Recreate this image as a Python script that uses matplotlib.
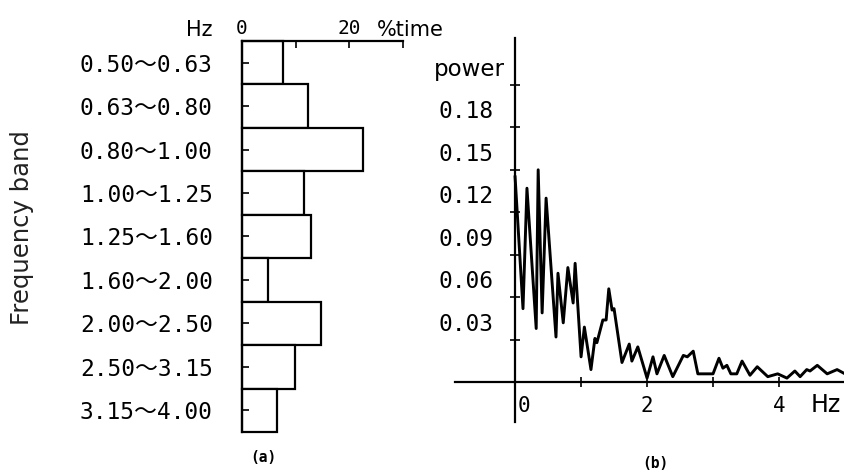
import matplotlib
matplotlib.use("Agg")
import matplotlib.pyplot as plt
from matplotlib.transforms import ScaledTranslation

# (a) share of time spent in each frequency band
bands = ["0.50～0.63", "0.63～0.80", "0.80～1.00", "1.00～1.25", "1.25～1.60",
         "1.60～2.00", "2.00～2.50", "2.50～3.15", "3.15～4.00"]
pct_time = [7.6, 12.3, 22.5, 11.6, 12.8, 4.9, 14.7, 9.9, 6.5]

# (b) power spectrum
freq_hz = [0.00, 0.12, 0.18, 0.32, 0.35, 0.41, 0.47, 0.62, 0.65, 0.73, 0.80, 0.88,
           0.91, 1.00, 1.05, 1.15, 1.21, 1.24, 1.33, 1.38, 1.42, 1.47, 1.50, 1.62,
           1.73, 1.77, 1.86, 2.00, 2.09, 2.15, 2.26, 2.39, 2.55, 2.61, 2.70, 2.77,
           3.00, 3.09, 3.15, 3.21, 3.27, 3.36, 3.44, 3.56, 3.67, 3.83, 3.98, 4.12,
           4.24, 4.32, 4.42, 4.47, 4.58, 4.73, 4.88, 5.00]
power = [0.145, 0.052, 0.137, 0.038, 0.150, 0.049, 0.130, 0.032, 0.077, 0.042, 0.081, 0.056,
         0.084, 0.018, 0.039, 0.009, 0.031, 0.028, 0.044, 0.044, 0.066, 0.051, 0.052, 0.014,
         0.027, 0.015, 0.025, 0.003, 0.018, 0.006, 0.019, 0.004, 0.019, 0.018, 0.022, 0.006,
         0.006, 0.017, 0.010, 0.012, 0.006, 0.006, 0.015, 0.005, 0.011, 0.004, 0.006, 0.003,
         0.008, 0.004, 0.009, 0.008, 0.012, 0.006, 0.009, 0.006]

power_ticks = [0.03, 0.06, 0.09, 0.12, 0.15, 0.18, 0.21]
power_labels = ["0.03", "0.06", "0.09", "0.12", "0.15", "0.18", "power"]

mono = ["DejaVu Sans Mono", "Noto Sans CJK JP"]

fig = plt.figure(figsize=(8.45, 4.70), dpi=100)

# ---- panel (a)
ax1 = fig.add_axes([0.2864, 0.0809, 0.1905, 0.832])
ax1.barh(range(len(bands)), pct_time, height=1.0, color="white",
         edgecolor="black", linewidth=1.6, clip_on=False)
ax1.set_ylim(len(bands) - 0.5, -0.5)
ax1.set_xlim(0, 30)
ax1.xaxis.tick_top()
ax1.set_xticks([0, 10, 20, 30], ["0", "", "20", ""])
ax1.set_yticks(range(len(bands)), bands)
ax1.tick_params(axis="x", direction="in", length=5, width=1.2, pad=2, labelsize=14)
ax1.tick_params(axis="y", direction="in", length=5, width=1.2, pad=21, labelsize=16.5)
for s in ["right", "bottom"]:
    ax1.spines[s].set_visible(False)
for s in ["top", "left"]:
    ax1.spines[s].set_linewidth(1.6)
for lbl in ax1.get_yticklabels() + ax1.get_xticklabels():
    lbl.set_fontfamily(mono)

ax1.annotate("Hz", xy=(0, 1), xycoords="axes fraction", xytext=(-21, 8),
             textcoords="offset points", ha="right", va="center", fontsize=15)
ax1.text(0.839, 1.028, "%time", transform=ax1.transAxes, ha="left", va="center",
         fontsize=15)

fig.text(22 / 845, 1 - 228 / 470, "Frequency band", rotation=90, ha="center",
         va="center", fontsize=17.5, color="#222222")
fig.text(263 / 845, 1 - 457 / 470, "(a)", ha="center", va="center", fontsize=10.5,
         fontweight="bold", family=mono)

# ---- panel (b)
ax2 = fig.add_axes([0.5385, 0.1021, 0.4615, 0.817])
ax2.plot(freq_hz, power, color="black", linewidth=2.1, clip_on=False)
ax2.set_xlim(-0.91, 5.0)
ax2.set_ylim(-0.028, 0.243)
ax2.spines["left"].set_position(("data", 0))
ax2.spines["bottom"].set_position(("data", 0))
for s in ["top", "right"]:
    ax2.spines[s].set_visible(False)
for s in ["left", "bottom"]:
    ax2.spines[s].set_linewidth(1.6)
ax2.set_xticks([0, 1, 2, 3, 4], ["0", "", "2", "", "4"])
ax2.set_yticks(power_ticks, power_labels)
ax2.tick_params(axis="x", direction="inout", length=7, width=1.2, pad=6, labelsize=15)
ax2.tick_params(axis="y", direction="inout", length=7, width=1.2, pad=12, labelsize=16.5)

for lbl in ax2.get_xticklabels():
    lbl.set_fontfamily(mono)
xl = ax2.get_xticklabels()
xl[0].set_horizontalalignment("left")
xl[0].set_transform(xl[0].get_transform() + ScaledTranslation(0.03, 0, fig.dpi_scale_trans))

# tick labels sit half a step above their ticks in the original
for lbl in ax2.get_yticklabels():
    lbl.set_fontfamily(mono)
    lbl.set_transform(lbl.get_transform() + ScaledTranslation(0, 0.18, fig.dpi_scale_trans))
yl = ax2.get_yticklabels()
yl[-1].set_fontfamily("DejaVu Sans")
yl[-1].set_fontsize(16.5)
yl[-1].set_transform(yl[-1].get_transform() + ScaledTranslation(0.11, 0, fig.dpi_scale_trans))

fig.text(811 / 845, 1 - 405 / 470, "Hz", ha="left", va="center", fontsize=17)
fig.text(655 / 845, 1 - 463 / 470, "(b)", ha="center", va="center", fontsize=10.5,
         fontweight="bold", family=mono)

fig.savefig("out.png", dpi=100)
